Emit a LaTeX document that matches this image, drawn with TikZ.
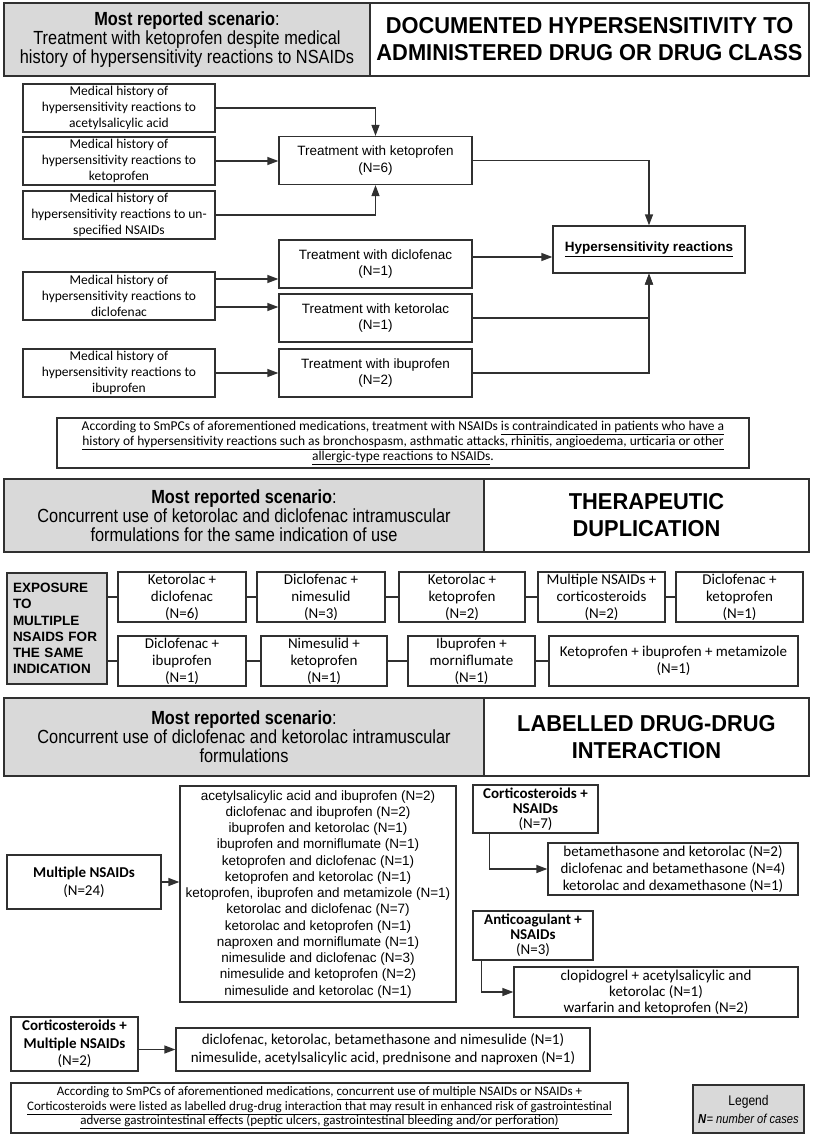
\documentclass[tikz,border=0pt]{standalone}
\usepackage{fontspec}
\setmainfont{Liberation Sans}
\newfontfamily\calib{Carlito}
\newfontfamily\narrowsans[FakeStretch=0.86]{Liberation Sans}
\newfontfamily\hdtitle[FakeStretch=0.95]{Liberation Sans}
\usepackage{tikz}
\usetikzlibrary{arrows.meta,calc}
\definecolor{ink}{HTML}{303030}
\definecolor{shade}{HTML}{D9D9D9}

\begin{document}
\begin{tikzpicture}[x=1pt, y=-1pt,
  bx/.style={draw=ink, line width=1.3pt, inner sep=1pt, align=center},
  gx/.style={bx, fill=shade},
  sz/.style 2 args={minimum width=#1, minimum height=#2},
  hl/.style={gx, font=\narrowsans\fontsize{19}{19}\selectfont},
  hr/.style={bx, font=\hdtitle\bfseries\fontsize{23}{27}\selectfont},
  mh/.style={bx, sz={192}{48}, font=\calib\fontsize{13.5}{16}\selectfont},
  tr/.style={bx, sz={193}{48}, font=\fontsize{13.5}{16.5}\selectfont},
  td/.style={bx, minimum height=50, font=\calib\fontsize{15}{17}\selectfont},
  cl/.style={bx, font=\calib\fontsize{15}{17}\selectfont},
  note/.style={bx, font=\calib\fontsize{13.5}{15}\selectfont},
  arr/.style={-{Triangle[length=11pt,width=8pt]}, draw=ink, line width=1.3pt},
  ln/.style={draw=ink, line width=1.3pt}]
\fill[white] (0,0) rectangle (814,1140);
\useasboundingbox (0,0) rectangle (814,1140);

% documented hypersensitivity
\node[hl, sz={366}{73}] (hd1l) at (187,39.5) {\textbf{Most reported scenario}:\\Treatment with ketoprofen despite medical\\history of hypersensitivity reactions to NSAIDs};
\node[hr, sz={439}{73}] (hd1r) at (589.5,39.5) {DOCUMENTED HYPERSENSITIVITY TO\\ADMINISTERED DRUG OR DRUG CLASS};
\foreach \n/\y/\l in {mh1/108/{reactions to\\acetylsalicylic acid}, mh2/161/{reactions to\\ketoprofen},
  mh3/215/{reactions to un-\\specified NSAIDs}, mh4/296/{reactions to\\diclofenac}, mh5/373/{reactions to\\ibuprofen}}
  \node[mh] (\n) at (119,\y) {Medical history of\\hypersensitivity \l};
\foreach \n/\y/\l in {keto/160.5/{ketoprofen\\(N=6)}, dic/264/{diclofenac\\(N=1)},
  ktl/318/{ketorolac\\(N=1)}, ibu/373/{ibuprofen\\(N=2)}}
  \node[tr] (\n) at (375.5,\y) {Treatment with \l};
\node[bx, sz={192}{47}, font=\fontsize{13.5}{16}\selectfont] (hyp) at (649,249.5) {\underline{\textbf{Hypersensitivity reactions}}};
\draw[arr] (mh1.east) -| (keto.north);
\draw[arr] (mh2.east) -- (mh2.east -| keto.west);
\draw[arr] (mh3.east) -| (keto.south);
\draw[arr] (keto.east) -| (hyp.north);
\draw[arr] ([yshift=17pt]mh4.east) -- ([yshift=17pt]mh4.east -| dic.west);
\draw[arr] ([yshift=-11pt]mh4.east) -- ([yshift=-11pt]mh4.east -| ktl.west);
\draw[arr] ([yshift=7pt]dic.east) -- ([yshift=7pt]dic.east -| hyp.west);
\draw[arr] (ktl.east) -| (hyp.south);
\draw[arr] (mh5) -- (ibu);
\draw[arr] (ibu.east) -| (hyp.south);
\node[note, sz={692}{50}] (nt1) at (403,443) {According to SmPCs of aforementioned medications, treatment with NSAIDs \underline{is contraindicated in patients who have a}\\
  \underline{history of hypersensitivity reactions such as bronchospasm, asthmatic attacks, rhinitis, angioedema, urticaria or other}\\
  \underline{allergic-type reactions to NSAIDs}.};

% therapeutic duplication
\node[hl, sz={480}{73}] (hd2l) at (244,515.5) {\textbf{Most reported scenario}:\\Concurrent use of ketorolac and diclofenac intramuscular\\formulations for the same indication of use};
\node[hr, sz={325}{73}] (hd2r) at (646.5,515.5) {THERAPEUTIC\\DUPLICATION};
\node[gx, text width=88, inner sep=6pt, minimum height=111, align=left, font=\bfseries\fontsize{13.5}{16.2}\selectfont] (exp) at (57,628.5)
  {EXPOSURE\\TO\\MULTIPLE\\NSAIDS FOR\\THE SAME\\INDICATION};
\foreach \n/\x/\w/\l in {r1a/182/128/{Ketorolac +\\diclofenac\\(N=6)}, r1b/321/128/{Diclofenac +\\nimesulid\\(N=3)},
  r1c/462/126/{Ketorolac +\\ketoprofen\\(N=2)}, r1d/601.5/127/{Multiple NSAIDs +\\corticosteroids\\(N=2)},
  r1e/739.5/127/{Diclofenac +\\ketoprofen\\(N=1)}}
  \node[td, minimum width=\w] (\n) at (\x,597) {\l};
\foreach \n/\x/\w/\l in {r2a/182/128/{Diclofenac +\\ibuprofen\\(N=1)}, r2b/324/126/{Nimesulid +\\ketoprofen\\(N=1)},
  r2c/471.5/127/{Ibuprofen +\\morniflumate\\(N=1)}, r2d/673.5/249/{Ketoprofen + ibuprofen + metamizole\\(N=1)}}
  \node[td, minimum width=\w] (\n) at (\x,661) {\l};
\draw[ln] (exp.east |- r1a) -- (r1a);
\draw[ln] (exp.east |- r2a) -- (r2a);
\foreach \x/\y in {r1a/r1b,r1b/r1c,r1c/r1d,r1d/r1e,r2a/r2b,r2b/r2c,r2c/r2d}
  \draw[ln] (\x) -- (\y);

% labelled drug-drug interaction
\node[hl, sz={480}{78}] (hd3l) at (244,737) {\textbf{Most reported scenario}:\\Concurrent use of diclofenac and ketorolac intramuscular\\formulations};
\node[hr, sz={325}{78}] (hd3r) at (646.5,737) {LABELLED DRUG-DRUG\\INTERACTION};
\node[cl, sz={154}{54}, font=\calib\fontsize{15}{18}\selectfont] (mn) at (84,882) {\textbf{Multiple NSAIDs}\\(N=24)};
\node[bx, sz={276}{216}, font=\fontsize{13.5}{16.25}\selectfont] (ml) at (318,894) {acetylsalicylic acid and ibuprofen (N=2)\\
  diclofenac and ibuprofen (N=2)\\ibuprofen and ketorolac (N=1)\\ibuprofen and morniflumate (N=1)\\
  ketoprofen and diclofenac (N=1)\\ketoprofen and ketorolac (N=1)\\ketoprofen, ibuprofen and metamizole (N=1)\\
  ketorolac and diclofenac (N=7)\\ketorolac and ketoprofen (N=1)\\naproxen and morniflumate (N=1)\\
  nimesulide and diclofenac (N=3)\\nimesulide and ketoprofen (N=2)\\nimesulide and ketorolac (N=1)};
\node[cl, sz={125}{48}, font=\calib\fontsize{15}{15}\selectfont] (cs) at (535.5,809) {\textbf{Corticosteroids +}\\\textbf{NSAIDs}\\(N=7)};
\node[cl, sz={250}{52}] (csl) at (673,869) {betamethasone and ketorolac (N=2)\\diclofenac and betamethasone (N=4)\\ketorolac and dexamethasone (N=1)};
\node[cl, sz={120}{49}, font=\calib\fontsize{15}{15}\selectfont] (ac) at (533,935.5) {\textbf{Anticoagulant +}\\\textbf{NSAIDs}\\(N=3)};
\node[cl, sz={284}{50}, font=\calib\fontsize{15}{16}\selectfont] (acl) at (656,992) {clopidogrel + acetylsalicylic and\\ketorolac (N=1)\\warfarin and ketoprofen (N=2)};
\node[cl, sz={127}{54}, font=\calib\fontsize{15}{17.5}\selectfont] (cm) at (74.5,1044) {\textbf{Corticosteroids +}\\\textbf{Multiple NSAIDs}\\(N=2)};
\node[cl, sz={414}{43}, font=\calib\fontsize{15}{18}\selectfont] (cml) at (383,1049.5) {diclofenac, ketorolac, betamethasone and nimesulide (N=1)\\nimesulide, acetylsalicylic acid, prednisone and naproxen (N=1)};
\draw[arr] (mn.east) -- (mn.east -| ml.west);
\draw[arr] ($(cs.south west)!0.136!(cs.south east)$) |- (csl.west);
\draw[arr] ($(ac.south west)!0.075!(ac.south east)$) |- (acl.west);
\draw[arr] (cml.west -| cm.east) -- (cml.west);
\node[note, sz={617}{50}, font=\calib\fontsize{13}{14.5}\selectfont] (nt2) at (319.5,1108) {According to SmPCs of aforementioned medications, \underline{concurrent use of multiple NSAIDs or NSAIDs +}\\
  \underline{Corticosteroids were listed as labelled drug-drug interaction that may result in enhanced risk of gastrointestinal}\\
  \underline{adverse gastrointestinal effects (peptic ulcers, gastrointestinal bleeding and/or perforation)}};
\node[gx, sz={111}{48}, font=\narrowsans\fontsize{14}{18}\selectfont] (leg) at (748.5,1109) {Legend\\{\fontsize{13}{18}\selectfont\textbf{\textit{N}}\textit{= number of cases}}};
\end{tikzpicture}
\end{document}
